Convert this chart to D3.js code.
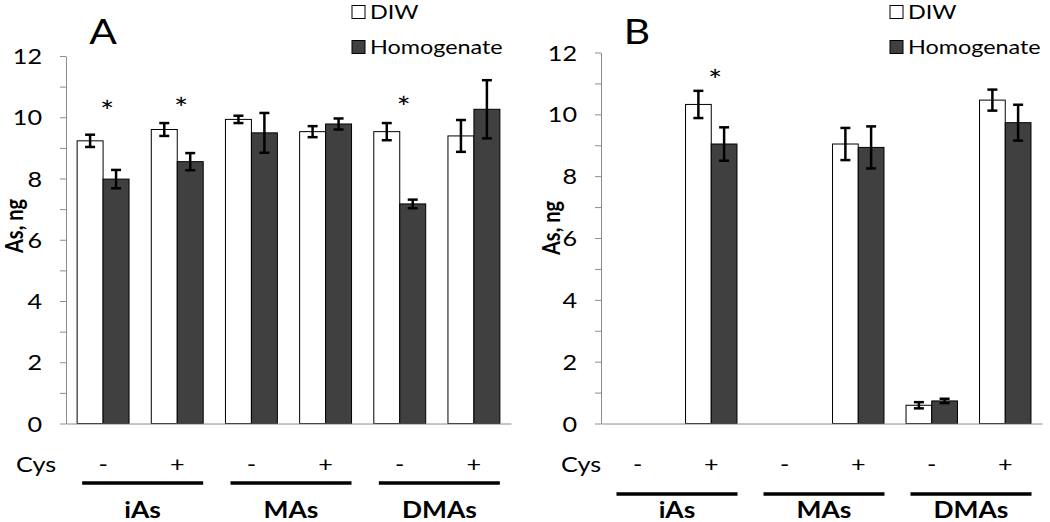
<!DOCTYPE html>
<html><head><meta charset="utf-8">
<script src="https://cdn.jsdelivr.net/npm/d3@7"></script>
<style>
body{margin:0;background:#fff}
svg{display:block}
text{font-family:Lato,"Open Sans",sans-serif;fill:#000}
</style>
</head><body>
<svg id="c" width="1050" height="522"></svg>
<script>
// ---- data ----
const categories = ["iAs -", "iAs +", "MAs -", "MAs +", "DMAs -", "DMAs +"];
const cysLabels = ["-", "+", "-", "+", "-", "+"];
const groups = ["iAs", "MAs", "DMAs"];
const seriesNames = ["DIW", "Homogenate"];
const yTicks = [0, 2, 4, 6, 8, 10, 12];

const diwA = [9.23, 9.60, 9.93, 9.53, 9.53, 9.39];
const diwAErr = [0.20, 0.21, 0.12, 0.18, 0.28, 0.52];
const homA = [7.98, 8.55, 9.49, 9.78, 7.17, 10.26];
const homAErr = [0.30, 0.28, 0.65, 0.18, 0.14, 0.95];
const starA = [10.45, 10.55, null, null, 10.6, null];

const diwB = [0, 10.32, 0, 9.04, 0.59, 10.46];
const diwBErr = [0, 0.44, 0, 0.52, 0.10, 0.34];
const homB = [0, 9.04, 0, 8.93, 0.73, 9.73];
const homBErr = [0, 0.54, 0, 0.68, 0.07, 0.58];
const starB = [null, 11.35, null, null, null, null];

// ---- drawing ----
const svg = d3.select("#c");
const S = 1.2; // horizontal text stretch of the original

function txt(g, x, y, str, size, anchor, weight) {
  return g.append("text")
    .attr("transform", `translate(${x},${y}) scale(${S},1)`)
    .attr("text-anchor", anchor || "start")
    .attr("dominant-baseline", "central")
    .style("font-size", size + "px")
    .style("font-weight", weight || "normal")
    .text(str);
}

function panel(cfg) {
  const g = svg.append("g");
  const y = d3.scaleLinear().domain([0, 12]).range([cfg.y0, cfg.y12]);
  const x = d3.scaleBand().domain(categories).range([cfg.x0, cfg.x1])
    .paddingInner(0.3).paddingOuter(0.15);
  const xs = d3.scaleBand().domain(seriesNames).range([0, x.bandwidth()]);
  const cx = c => x(c) + x.bandwidth() / 2;

  const rows = [];
  categories.forEach((c, i) => {
    rows.push({c, s: "DIW", v: cfg.diw[i], e: cfg.diwErr[i]});
    rows.push({c, s: "Homogenate", v: cfg.hom[i], e: cfg.homErr[i]});
  });

  // bars
  g.selectAll("rect.bar").data(rows).join("rect").attr("class", "bar")
    .attr("x", d => x(d.c) + xs(d.s))
    .attr("width", xs.bandwidth())
    .attr("y", d => y(d.v))
    .attr("height", d => y(0) - y(d.v))
    .attr("fill", d => d.s === "DIW" ? "#ffffff" : "#404040")
    .attr("stroke", "#000").attr("stroke-width", 1);

  // axes
  const ya = g.append("g").attr("transform", `translate(${cfg.x0},0)`)
    .call(d3.axisLeft(y).tickValues(d3.range(0, 13)).tickSize(6).tickSizeOuter(0).tickFormat(""));
  ya.selectAll("path,line").attr("stroke", "#8c8c8c");
  const xa = g.append("g").attr("transform", `translate(0,${cfg.y0})`)
    .call(d3.axisBottom(x).tickSize(0).tickSizeOuter(0).tickFormat(""));
  xa.selectAll("path,line").attr("stroke", "#8c8c8c");

  yTicks.forEach(t => txt(g, cfg.x0 - 24, y(t), String(t), 21, "end"));

  // error bars
  const eb = rows.filter(d => d.e > 0);
  const ex = d => x(d.c) + xs(d.s) + xs.bandwidth() / 2;
  g.selectAll("line.ev").data(eb).join("line").attr("class", "ev")
    .attr("x1", ex).attr("x2", ex)
    .attr("y1", d => y(d.v - d.e)).attr("y2", d => y(d.v + d.e))
    .attr("stroke", "#000").attr("stroke-width", 2.5);
  ["top", "bot"].forEach(k => {
    g.selectAll("line.c" + k).data(eb).join("line").attr("class", "c" + k)
      .attr("x1", d => ex(d) - 5).attr("x2", d => ex(d) + 5)
      .attr("y1", d => y(k === "top" ? d.v + d.e : d.v - d.e))
      .attr("y2", d => y(k === "top" ? d.v + d.e : d.v - d.e))
      .attr("stroke", "#000").attr("stroke-width", 2.5);
  });

  // stars
  categories.forEach((c, i) => {
    if (cfg.star[i] != null) txt(g, cx(c) + 4, y(cfg.star[i]) + 8, "*", 28, "middle");
  });

  // Cys row
  txt(g, cfg.cysX, cfg.cysY, "Cys", 21, "start");
  categories.forEach((c, i) => txt(g, cx(c), cfg.cysY, cysLabels[i], 21, "middle"));

  // group lines and labels
  groups.forEach((gr, j) => {
    const mid = (cx(categories[2 * j]) + cx(categories[2 * j + 1])) / 2 + 2.5;
    g.append("line").attr("x1", mid - 60.5).attr("x2", mid + 60.5)
      .attr("y1", cfg.lineY).attr("y2", cfg.lineY)
      .attr("stroke", "#000").attr("stroke-width", 3.5);
    txt(g, mid, cfg.labelY, gr, 22, "middle", "bold");
  });

  // y title
  g.append("text")
    .attr("transform", `translate(${cfg.titleX},${cfg.titleY}) scale(${S},1) rotate(-90)`)
    .attr("text-anchor", "middle").attr("dominant-baseline", "central")
    .style("font-size", "20px").style("font-weight", "bold").text("As, ng");

  // panel letter
  txt(g, cfg.letterX, cfg.letterY, cfg.letter, 34, "middle");

  // legend
  seriesNames.forEach((s, k) => {
    const ly = cfg.legY[k];
    g.append("rect").attr("x", cfg.legX).attr("y", ly - 6.5).attr("width", 13).attr("height", 13)
      .attr("fill", s === "DIW" ? "#fff" : "#404040").attr("stroke", "#000").attr("stroke-width", 1);
    txt(g, cfg.legX + 18, ly, s, 19.5, "start");
  });
}

panel({x0: 66, x1: 511, y0: 423.5, y12: 56,
  diw: diwA, diwErr: diwAErr, hom: homA, homErr: homAErr, star: starA,
  cysX: 16, cysY: 464, lineY: 483, labelY: 509,
  titleX: 14, titleY: 226, letter: "A", letterX: 103, letterY: 31,
  legX: 352, legY: [12, 47]});

panel({x0: 601, x1: 1042, y0: 423.5, y12: 52.5,
  diw: diwB, diwErr: diwBErr, hom: homB, homErr: homBErr, star: starB,
  cysX: 561, cysY: 464, lineY: 494, labelY: 509,
  titleX: 551, titleY: 228, letter: "B", letterX: 637, letterY: 31,
  legX: 890, legY: [12, 47]});
</script>
</body></html>
